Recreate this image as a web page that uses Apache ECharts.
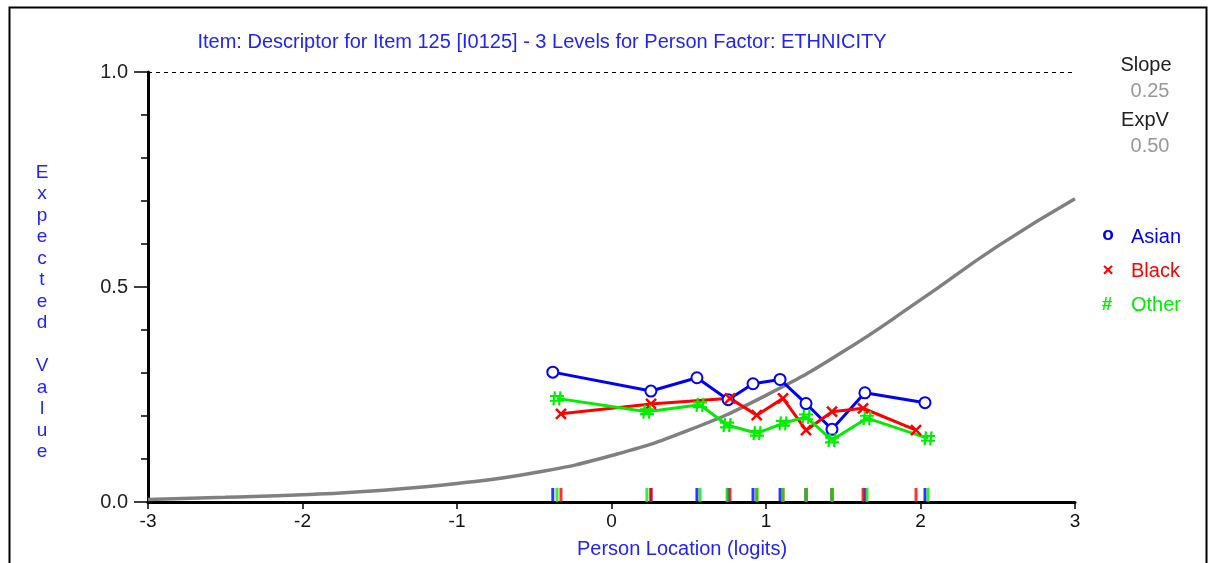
<!DOCTYPE html>
<html>
<head>
<meta charset="utf-8">
<script src="https://cdn.jsdelivr.net/npm/echarts@6/dist/echarts.min.js"></script>
<style>
  html, body { margin: 0; padding: 0; background: #fff; }
  #chart { width: 1212px; height: 563px; }
</style>
</head>
<body>
<div id="chart"></div>
<script>
// Person locations (logits) and observed means per ethnicity group
const asianX = [-0.38, 0.255, 0.553, 0.755, 0.916, 1.091, 1.259, 1.427, 1.64, 2.029];
const asianY = [0.302, 0.258, 0.289, 0.238, 0.275, 0.285, 0.229, 0.169, 0.254, 0.231];
const blackX = [-0.327, 0.256, 0.767, 0.94, 1.11, 1.259, 1.427, 1.628, 1.971];
const blackY = [0.205, 0.228, 0.241, 0.202, 0.241, 0.167, 0.21, 0.218, 0.167];
const otherX = [-0.353, 0.229, 0.573, 0.748, 0.942, 1.11, 1.259, 1.427, 1.654, 2.049];
const otherY = [0.241, 0.21, 0.226, 0.179, 0.16, 0.183, 0.198, 0.144, 0.195, 0.148];

// Expected value curve
const curveX = [-3, -2.5, -2, -1.5, -1, -0.5, 0, 0.5, 1, 1.5, 2, 2.5, 3];
const curveY = [0.006, 0.011, 0.017, 0.027, 0.043, 0.068, 0.108, 0.167, 0.248, 0.35, 0.47, 0.595, 0.705];

const xTicks = [-3, -2, -1, 0, 1, 2, 3];
const yTickLabels = ['0.0', '0.5', '1.0'];

const titleText = 'Item: Descriptor for Item 125 [I0125] - 3 Levels for Person Factor: ETHNICITY';
const groupNames = ['Asian', 'Black', 'Other'];
const slopeValue = '0.25';
const expVValue = '0.50';

const BLUE = '#0000ff', RED = '#ff0000', GREEN = '#00ee00', GREY = '#808080';
const TEXT_BLUE = '#2222ff';
const FONT = '"Liberation Sans", Arial, sans-serif';

const zip = (xs, ys) => xs.map((x, i) => [x, ys[i]]);
const rug = xs => xs.map(x => [x, 0]);

const crossPath = 'path://M0,0L10,10M10,0L0,10';
const hashPath = 'path://M3.5,0L2.5,10M7.5,0L6.5,10M0,3.3L10,3.3M0,6.7L10,6.7';

const chart = echarts.init(document.getElementById('chart'), null, { renderer: 'canvas' });

function groupLine(name, data, color, symbol, size, border) {
  return {
    name: name,
    type: 'line',
    data: data,
    symbol: symbol,
    symbolSize: size,
    showAllSymbol: true,
    lineStyle: { color: color, width: 3 },
    itemStyle: { color: color, borderColor: color, borderWidth: border },
    emphasis: { disabled: true },
    z: 4
  };
}

function rugSeries(xs, color, z) {
  return {
    type: 'scatter',
    data: rug(xs),
    symbol: 'rect',
    symbolSize: [3, 14],
    symbolOffset: [0, -7],
    itemStyle: { color: color },
    silent: true,
    z: z
  };
}

function label(text, x, y, color, font, align) {
  return {
    type: 'text', x: x, y: y, silent: true,
    style: {
      text: text, fill: color, font: font + ' ' + FONT,
      align: align || 'center', verticalAlign: 'middle'
    }
  };
}

const option = {
  animation: false,
  backgroundColor: '#fff',
  title: {
    text: titleText,
    left: 537,
    top: 27,
    textAlign: 'center',
    textStyle: { color: TEXT_BLUE, fontSize: 20, fontWeight: 'normal', fontFamily: FONT }
  },
  grid: { left: 148, right: 137, top: 72, bottom: 61, containLabel: false },
  xAxis: {
    type: 'value',
    min: -3, max: 3, interval: 1,
    axisLine: { onZero: false, lineStyle: { color: '#000', width: 3 } },
    axisTick: { show: true, length: 7, lineStyle: { color: '#000', width: 1.5 } },
    axisLabel: {
      color: '#111', fontSize: 19, fontFamily: FONT, margin: 10,
      formatter: v => (xTicks.indexOf(v) >= 0 ? String(v) : '')
    },
    splitLine: { show: false }
  },
  yAxis: {
    type: 'value',
    min: 0, max: 1, interval: 0.5,
    axisLine: { show: true, onZero: false, lineStyle: { color: '#000', width: 3 } },
    axisTick: { show: true, length: 14, lineStyle: { color: '#000', width: 1.5 } },
    minorTick: { show: true, splitNumber: 5, length: 7, lineStyle: { color: '#000', width: 1.5 } },
    axisLabel: {
      color: '#222', fontSize: 20, fontFamily: FONT, margin: 20,
      formatter: v => yTickLabels[Math.round(v * 2)]
    },
    splitLine: { show: false }
  },
  series: [
    {
      name: 'ExpV',
      type: 'line',
      data: zip(curveX, curveY),
      smooth: true,
      symbol: 'none',
      lineStyle: { color: GREY, width: 3.5 },
      silent: true,
      z: 2,
      markLine: {
        silent: true,
        symbol: ['none', 'none'],
        label: { show: false },
        lineStyle: { color: '#000', type: [4, 4], width: 1.2 },
        data: [{ yAxis: 1 }]
      }
    },
    rugSeries(asianX, BLUE, 5),
    rugSeries(blackX, RED, 6),
    rugSeries(otherX, GREEN, 7),
    groupLine(groupNames[0], zip(asianX, asianY), BLUE, 'emptyCircle', 11, 2.5),
    groupLine(groupNames[1], zip(blackX, blackY), RED, crossPath, 10, 2.5),
    groupLine(groupNames[2], zip(otherX, otherY), GREEN, hashPath, 14, 2.2)
  ],
  graphic: [
    // outer frame
    {
      type: 'rect', left: 7, top: 5, silent: true,
      shape: { width: 1197, height: 580 },
      style: { fill: 'none', stroke: '#000', lineWidth: 2 }
    },
    // vertical y-axis title
    {
      type: 'text', x: 42, y: 162, silent: true,
      style: {
        text: 'E\nx\np\ne\nc\nt\ne\nd\n\nV\na\nl\nu\ne',
        fill: TEXT_BLUE, font: '19px ' + FONT, lineHeight: 21.5, align: 'center'
      }
    },
    // x-axis title
    label('Person Location (logits)', 682, 549, TEXT_BLUE, '20px'),
    // slope / expected value readouts
    label('Slope', 1146, 65, '#222', '20px'),
    label(slopeValue, 1150, 91, '#999', '20px'),
    label('ExpV', 1145, 120, '#222', '20px'),
    label(expVValue, 1150, 146, '#999', '20px'),
    // group key
    label('o', 1108, 235, BLUE, 'bold 19px'),
    label(groupNames[0], 1131, 237, BLUE, '20px', 'left'),
    label('×', 1108, 271, RED, 'bold 19px'),
    label(groupNames[1], 1131, 271, RED, '20px', 'left'),
    label('#', 1107, 305, GREEN, 'bold 19px'),
    label(groupNames[2], 1131, 305, GREEN, '20px', 'left')
  ]
};

chart.setOption(option);
</script>
</body>
</html>
